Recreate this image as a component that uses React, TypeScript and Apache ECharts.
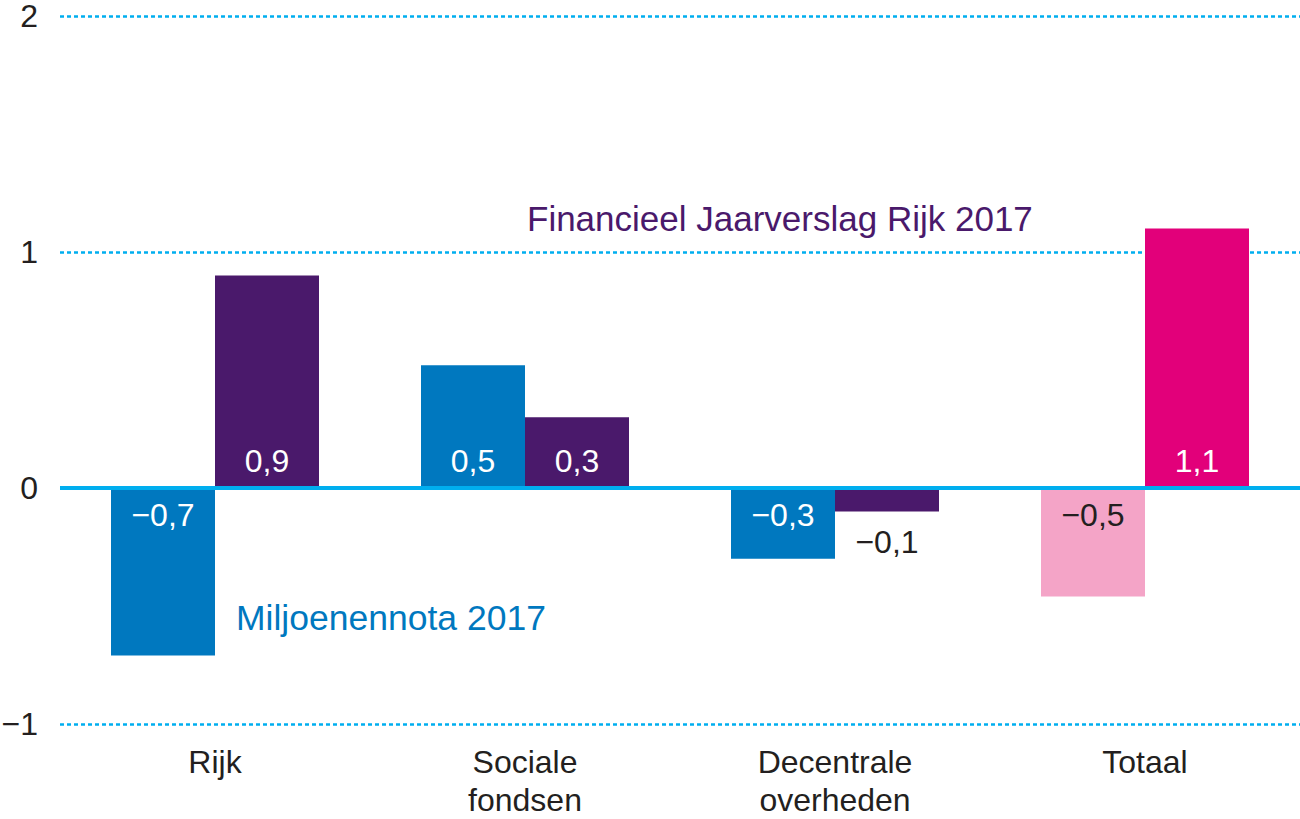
import React, { useEffect, useRef } from "react";
import * as echarts from "echarts";

const categories = ["Rijk", "Sociale\nfondsen", "Decentrale\noverheden", "Totaal"];
const miljoenennota = [-0.71, 0.52, -0.3, -0.46];
const jaarverslag = [0.9, 0.3, -0.1, 1.1];
const seriesNames = ["Miljoenennota 2017", "Financieel Jaarverslag Rijk 2017"];
const yTicks = { min: -1, max: 2, interval: 1 };

const FONT = "'Liberation Sans', Arial, sans-serif";
const DARK = "#231F20";
const BLUE = "#0078BF";
const PURPLE = "#4A196B";
const MAGENTA = "#E2007A";
const PINK = "#F4A4C7";
const CYAN = "#00AEEF";

const fmt = (v: number) => {
  const s = Math.abs(v).toFixed(1).replace(".", ",");
  return v < 0 ? "\u2212" + s : s;
};

function buildData(values: number[], base: string, totalColor: string, totalLabelDark: boolean) {
  return values.map((v, i) => {
    const isTotal = i === values.length - 1;
    const small = Math.abs(v) < 0.15;
    let position: string;
    if (small) position = v < 0 ? "bottom" : "top";
    else position = v < 0 ? "insideTop" : "insideBottom";
    const dark = small || (isTotal && totalLabelDark);
    return {
      value: v,
      itemStyle: { color: isTotal ? totalColor : base },
      label: {
        show: true,
        position,
        distance: small ? 14 : 11,
        formatter: () => fmt(v),
        color: dark ? DARK : "#FFFFFF",
        fontSize: 32,
        fontFamily: FONT,
      },
    };
  });
}

export default function App() {
  const ref = useRef<HTMLDivElement>(null);
  useEffect(() => {
    document.body.style.margin = "0";
    if (!ref.current) return;
    const chart = echarts.init(ref.current, undefined, { renderer: "svg" });
    chart.setOption({
      animation: false,
      backgroundColor: "#FFFFFF",
      grid: {
        left: 60,
        right: 0,
        top: 16,
        bottom: 95,
        containLabel: false,
        outerBoundsMode: "none",
      },
      xAxis: {
        type: "category",
        data: categories,
        axisLine: { show: false },
        axisTick: { show: false },
        splitLine: { show: false },
        axisLabel: {
          color: DARK,
          fontSize: 32,
          lineHeight: 38,
          fontFamily: FONT,
          margin: 19,
          interval: 0,
        },
      },
      yAxis: {
        type: "value",
        min: yTicks.min,
        max: yTicks.max,
        interval: yTicks.interval,
        axisLine: { show: false },
        axisTick: { show: false },
        axisLabel: {
          color: DARK,
          fontSize: 32,
          lineHeight: 28,
          fontFamily: FONT,
          margin: 22,
          formatter: (v: number) => (v < 0 ? "\u2212" + Math.abs(v) : String(v)),
        },
        splitLine: {
          show: true,
          lineStyle: { color: CYAN, width: 2.5, type: [4, 3] },
        },
      },
      series: [
        {
          name: seriesNames[0],
          type: "bar",
          barWidth: 104,
          barGap: "0%",
          data: buildData(miljoenennota, BLUE, PINK, true),
        },
        {
          name: seriesNames[1],
          type: "bar",
          barWidth: 104,
          barGap: "0%",
          data: buildData(jaarverslag, PURPLE, MAGENTA, false),
          markLine: {
            silent: true,
            symbol: ["none", "none"],
            label: { show: false },
            lineStyle: { color: CYAN, width: 4, type: "solid" },
            data: [{ yAxis: 0 }],
          },
        },
      ],
      graphic: [
        {
          type: "text",
          x: 527,
          y: 218,
          style: {
            text: seriesNames[1],
            fill: PURPLE,
            font: `35px ${FONT}`,
            textAlign: "left",
            textVerticalAlign: "middle",
          },
        },
        {
          type: "text",
          x: 236,
          y: 618,
          style: {
            text: seriesNames[0],
            fill: BLUE,
            font: `35.5px ${FONT}`,
            textAlign: "left",
            textVerticalAlign: "middle",
          },
        },
      ],
    });
    return () => chart.dispose();
  }, []);
  return <div ref={ref} style={{ width: 1300, height: 819 }} />;
}
